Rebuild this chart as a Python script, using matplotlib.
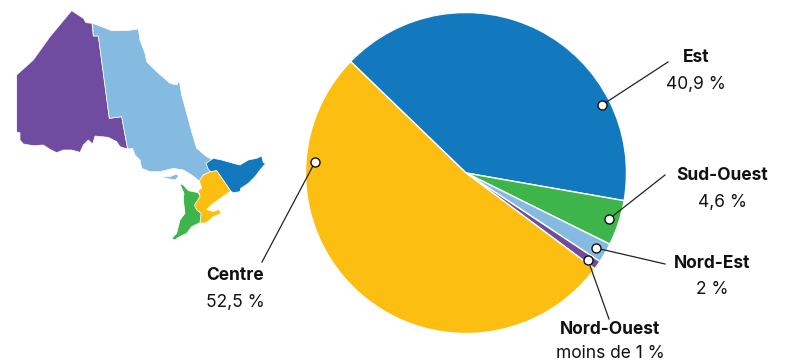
import matplotlib
matplotlib.use('Agg')
import matplotlib.pyplot as plt
from matplotlib.patches import Polygon

W, H = 791, 363
plt.rcParams['font.family'] = ['Inter', 'DejaVu Sans']

# pie data, clockwise from the Est/Centre boundary
regions = ['Est', 'Sud-Ouest', 'Nord-Est', 'Nord-Ouest', 'Centre']
shares = [40.9, 4.6, 2, 0.9, 52.5]
share_labels = ['40,9 %', '4,6 %', '2 %', 'moins de 1 %', '52,5 %']
colors = ['#1279BE', '#3DB54A', '#85BBE0', '#6F4CA0', '#FDBE12']

# label block centre x, name y, value y
label_pos = {
    'Est': (696, 58, 84),
    'Sud-Ouest': (722, 176, 202),
    'Nord-Est': (712, 264, 290),
    'Nord-Ouest': (610, 329, 354),
    'Centre': (235, 276, 302),
}
# leader lines: dot -> far end
leaders = {
    'Est': ((602, 105), (668, 62)),
    'Sud-Ouest': ((609, 219), (665, 175)),
    'Nord-Est': ((596, 248), (665, 264)),
    'Nord-Ouest': ((588, 260), (609, 319)),
    'Centre': ((315, 162), (262, 262)),
}

# map outlines (3x crop coordinates)
purple_map = [(215,32),(250,55),(258,68),(276,70),(280,108),(295,108),(328,355),(365,350),(383,447),
              (360,440),(350,425),(325,412),(285,408),(278,432),(265,420),(250,435),(240,457),(215,450),
              (190,450),(170,458),(150,448),(130,435),(100,437),(70,432),(60,420),(60,398),(50,396),
              (50,225),(100,180),(150,110)]
light_map = [(278,70),(310,82),(335,92),(380,92),(415,87),(420,120),(435,160),(440,185),(470,215),
             (510,250),(530,255),(538,243),(545,285),(560,340),(575,395),(590,445),(620,470),(638,480),
             (618,490),(625,508),(632,515),(610,525),(598,543),(575,525),(550,510),(520,505),(480,515),
             (450,515),(425,505),(420,480),(405,465),(398,445),(383,447),(365,350),(328,355),(295,108),(280,108)]
island_map = [(480,530),(510,530),(530,522),(535,530),(525,540),(500,535)]
blue_map = [(618,490),(640,475),(665,480),(700,490),(720,495),(745,480),(770,475),(785,468),(790,488),
            (797,490),(780,510),(765,530),(745,550),(722,565),(720,575),(700,578),(692,573),(650,512),
            (632,515),(625,508)]
yellow_map = [(598,543),(610,525),(632,515),(650,512),(692,573),(640,610),(620,628),(640,635),(655,628),
              (665,640),(640,650),(620,668),(600,670),(603,640),(590,630),(583,615),(590,605),(600,590),
              (595,570),(605,565)]
green_map = [(540,552),(550,555),(565,572),(595,578),(600,590),(590,605),(583,615),(590,630),(603,640),
             (600,668),(575,680),(560,700),(535,712),(525,720),(515,715),(530,700),(535,680),(540,660),
             (555,640),(550,600),(552,580)]

fig = plt.figure(figsize=(W / 100, H / 100), dpi=100)
ax = fig.add_axes([0, 0, 1, 1])

ax.pie(shares, colors=colors, startangle=136, counterclock=False, center=(466, H - 173), radius=160.5,
       wedgeprops={'edgecolor': 'white', 'linewidth': 1.0}, frame=False)
ax.set_xlim(0, W)
ax.set_ylim(0, H)
ax.set_aspect('auto')
ax.axis('off')

for outline, c in [(purple_map, colors[3]), (light_map, colors[2]), (island_map, colors[2]),
                   (blue_map, colors[0]), (yellow_map, colors[4]), (green_map, colors[1])]:
    pts = [(x / 3, H - y / 3) for x, y in outline]
    ax.add_patch(Polygon(pts, closed=True, facecolor=c, edgecolor='white', linewidth=0.5))

for name, val in zip(regions, share_labels):
    (x0, y0), (x1, y1) = leaders[name]
    ax.plot([x0, x1], [H - y0, H - y1], color='#222222', lw=0.9, zorder=5)
    ax.plot(x0, H - y0, 'o', ms=6.5, mfc='white', mec='#111111', mew=1, zorder=6)
    lx, ly, vy = label_pos[name]
    ax.text(lx, H - ly, name, ha='center', va='center', fontsize=12.5, fontweight='bold', color='#111111')
    ax.text(lx, H - vy, val, ha='center', va='center', fontsize=12.5, color='#111111')

fig.savefig('out.png', dpi=100)
